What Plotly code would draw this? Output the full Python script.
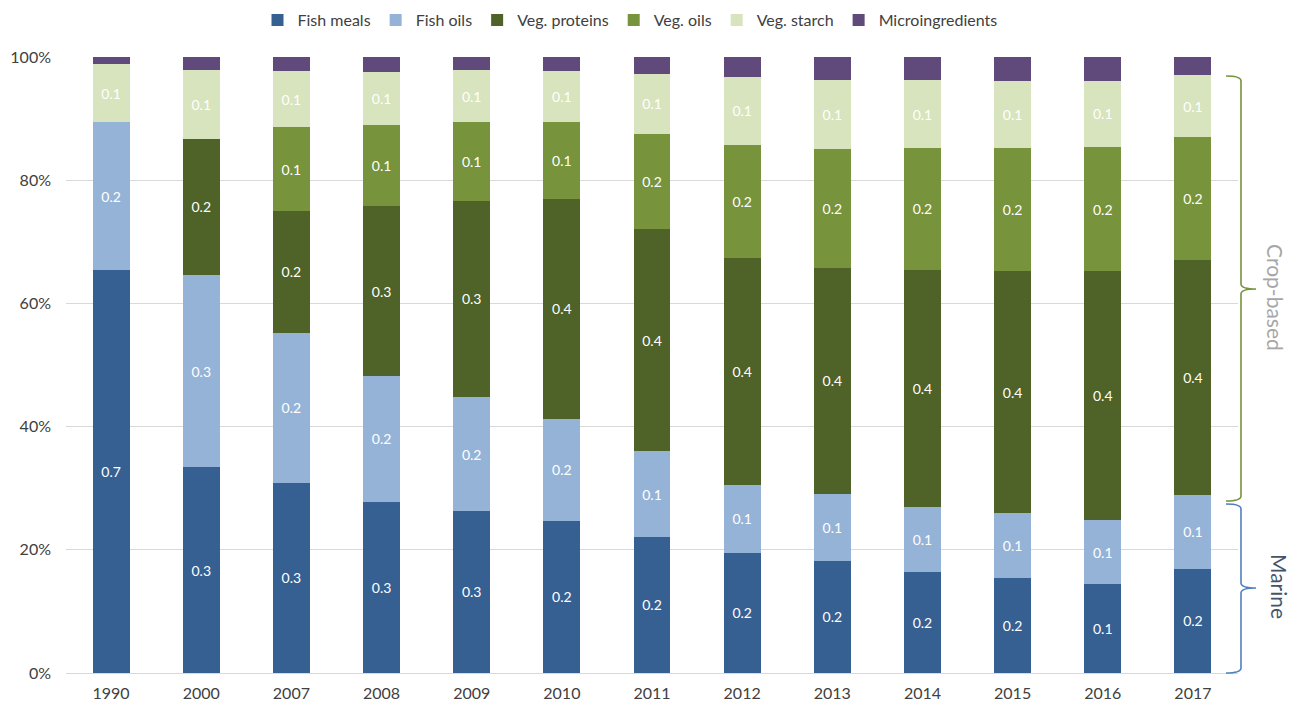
import plotly.graph_objects as go

# Feed composition by year (share of total, 0-1)
years = ["1990", "2000", "2007", "2008", "2009", "2010", "2011",
         "2012", "2013", "2014", "2015", "2016", "2017"]
fish_meals = [0.654, 0.334, 0.309, 0.278, 0.263, 0.247, 0.221,
              0.195, 0.182, 0.164, 0.154, 0.144, 0.169]
fish_oils = [0.240, 0.312, 0.243, 0.204, 0.185, 0.166, 0.139,
             0.111, 0.109, 0.106, 0.105, 0.104, 0.120]
veg_proteins = [0.0, 0.221, 0.198, 0.276, 0.319, 0.356, 0.361,
                0.367, 0.367, 0.385, 0.394, 0.404, 0.381]
veg_oils = [0.0, 0.0, 0.136, 0.131, 0.127, 0.125, 0.154,
            0.184, 0.193, 0.197, 0.200, 0.202, 0.200]
veg_starch = [0.095, 0.112, 0.091, 0.087, 0.085, 0.084, 0.098,
              0.111, 0.112, 0.110, 0.108, 0.107, 0.100]
microingredients = [0.011, 0.021, 0.023, 0.024, 0.021, 0.022, 0.027,
                    0.032, 0.037, 0.038, 0.039, 0.039, 0.030]

FONT = "Lato"

series = [
    ("Fish meals", fish_meals, "#376092", True),
    ("Fish oils", fish_oils, "#95B3D7", True),
    ("Veg. proteins", veg_proteins, "#4F6228", True),
    ("Veg. oils", veg_oils, "#77933C", True),
    ("Veg. starch", veg_starch, "#D7E4BD", True),
    ("Microingredients", microingredients, "#604A7B", False),
]

fig = go.Figure()
for name, vals, color, labelled in series:
    text = [f"{v:.1f}" if (labelled and v > 0) else "" for v in vals]
    fig.add_trace(go.Bar(
        name=name, x=years, y=[v if v > 0 else None for v in vals],
        marker=dict(color=color, line=dict(width=0)),
        text=text, textposition="inside", insidetextanchor="middle",
        textangle=0, constraintext="none",
        textfont=dict(family=FONT, size=14, color="white"),
        hoverinfo="x+y+name",
    ))

# Plot area in pixels
L, R, T, B = 66, 1238, 57, 673
W, H = 1299, 707


def px(x):
    return (x - L) / (R - L)


def py(y):
    return (B - y) / (B - T)


def brace(x_left, x_line, x_tip, y_top, y_mid, y_bot, r=5):
    pts = [
        f"M {px(x_left)},{py(y_top)}",
        f"Q {px(x_line)},{py(y_top)} {px(x_line)},{py(y_top + r)}",
        f"L {px(x_line)},{py(y_mid - r)}",
        f"Q {px(x_line)},{py(y_mid)} {px(x_tip)},{py(y_mid)}",
        f"Q {px(x_line)},{py(y_mid)} {px(x_line)},{py(y_mid + r)}",
        f"L {px(x_line)},{py(y_bot - r)}",
        f"Q {px(x_line)},{py(y_bot)} {px(x_left)},{py(y_bot)}",
    ]
    return " ".join(pts)


fig.add_shape(type="path", xref="paper", yref="paper",
              path=brace(1226, 1241, 1256, 76, 289, 501),
              line=dict(color="#77933C", width=1.6))
fig.add_shape(type="path", xref="paper", yref="paper",
              path=brace(1226, 1241, 1256, 504, 588, 673),
              line=dict(color="#4F81BD", width=1.6))

fig.add_annotation(text="Crop-based", xref="paper", yref="paper",
                   x=px(1276), y=py(297), xanchor="center", yanchor="middle",
                   showarrow=False, textangle=90,
                   font=dict(family=FONT, size=21, color="#A6A6A6"))
fig.add_annotation(text="Marine", xref="paper", yref="paper",
                   x=px(1280), y=py(586), xanchor="center", yanchor="middle",
                   showarrow=False, textangle=90,
                   font=dict(family=FONT, size=21, color="#44546A"))

fig.update_layout(
    barmode="stack",
    bargap=0.59,
    width=W, height=H,
    margin=dict(l=L, r=W - R, t=T, b=H - B, autoexpand=False),
    plot_bgcolor="white", paper_bgcolor="white",
    font=dict(family=FONT, size=16, color="#404040"),
    legend=dict(orientation="h", xref="paper", yref="paper",
                x=px(630), xanchor="center", y=py(20), yanchor="middle",
                font=dict(family=FONT, size=16, color="#404040"),
                itemwidth=30, traceorder="normal"),
    xaxis=dict(showgrid=False, showline=True, linecolor="#D9D9D9",
               linewidth=1, ticks="", automargin=False, ticklabelstandoff=6,
               tickfont=dict(size=16, color="#404040")),
    yaxis=dict(range=[0, 1], dtick=0.2, tickformat=".0%",
               showgrid=True, gridcolor="#D9D9D9", gridwidth=1,
               zeroline=False, ticks="", ticklabelstandoff=14, automargin=False,
               tickfont=dict(size=16, color="#404040")),
    showlegend=True,
)

fig.write_html("out.html")
